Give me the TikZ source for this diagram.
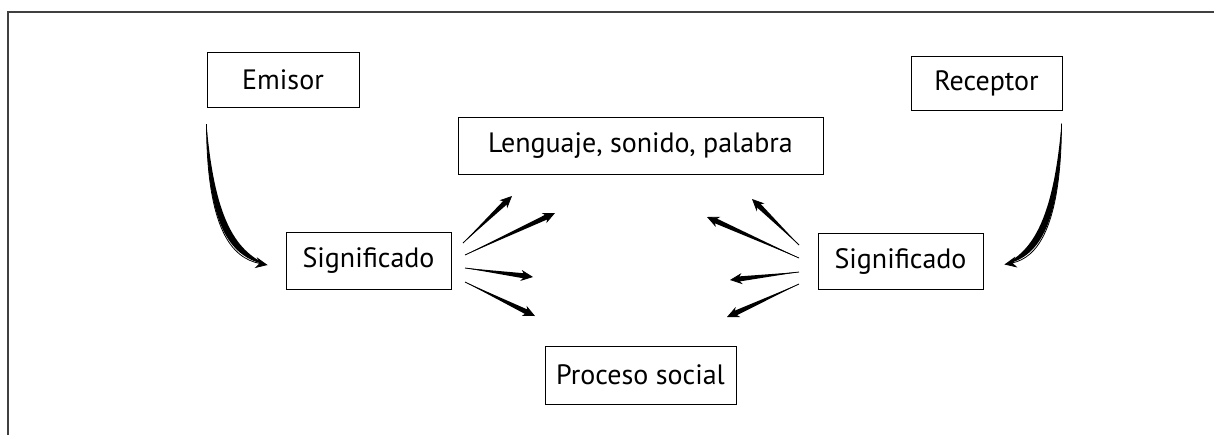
\documentclass[tikz,border=0pt]{standalone}
\usepackage{fontspec}
\setmainfont{PT Sans}
\usetikzlibrary{arrows.meta,calc}

\begin{document}
\begin{tikzpicture}[x=0.5pt, y=-0.5pt,
	caja/.style={draw, line width=0.5pt, inner sep=0pt, font=\fontsize{14}{16}\selectfont},
	punta/.style={-{Stealth[length=6pt,width=5.5pt]}, line width=0.4pt}]
	\useasboundingbox (0,0) rectangle (1214,435);

	% marco
	\draw [black!75] [line width=0.8pt] (1214,12)--(8,12)--(8,435);

	\node [caja, minimum width=76pt, minimum height=27.5pt] (emisor) at (283,80) {Emisor};
	\node [caja, minimum width=75.5pt, minimum height=27pt] (receptor) at (986.5,83) {Receptor};
	\node [caja, minimum width=182.5pt, minimum height=28.5pt] (lenguaje) at (640.5,145.5) {Lenguaje, sonido, palabra};
	\node [caja, minimum width=82.5pt, minimum height=28.5pt] (sigizq) at (368.5,260.5) {Significado};
	\node [caja, minimum width=82.5pt, minimum height=28pt] (sigder) at (900.5,261) {Significado};
	\node [caja, minimum width=95.5pt, minimum height=29pt] (proceso) at (640.5,375) {Proceso social};

	% curvas
	\coordinate (e0) at ($(emisor.south west)+(0,16)$);
	\coordinate (e1) at ($(sigizq.west)+(-18,4.5)$);
	\fill (e0) .. controls (207,230) and (232,258) .. (e1) .. controls (239,252) and (215,226) .. (e0);
	\draw [punta] (e0) .. controls (207,230) and (232,258) .. (e1);

	\coordinate (r0) at ($(receptor.south east)+(-1,13)$);
	\coordinate (r1) at ($(sigder.east)+(21,3.5)$);
	\fill (r0) .. controls (1061,230) and (1036,258) .. (r1) .. controls (1029,252) and (1053,226) .. (r0);
	\draw [punta] (r0) .. controls (1061,230) and (1036,258) .. (r1);

	% flechas de la izquierda
	\coordinate (a1) at (463,243); \coordinate (b1) at (512,196);
	\coordinate (a2) at (465,255); \coordinate (b2) at (555,213);
	\coordinate (a3) at (465,268); \coordinate (b3) at (533,277);
	\coordinate (a4) at (465,282); \coordinate (b4) at (535,316);
	% flechas de la derecha
	\coordinate (c1) at (799,245); \coordinate (d1) at (752,199);
	\coordinate (c2) at (799,258); \coordinate (d2) at (707,217);
	\coordinate (c3) at (799,272); \coordinate (d3) at (730,280);
	\coordinate (c4) at (799,284); \coordinate (d4) at (727,317);

	\foreach \a/\b in {a1/b1, a2/b2, a3/b3, a4/b4, c1/d1, c2/d2, c3/d3, c4/d4} {
		\coordinate (w) at ($(\b)!4pt!(\a)$);
		\fill (\a)--($(w)!1.3pt!90:(\a)$)--($(w)!1.3pt!-90:(\a)$)--cycle;
		\draw [punta] (\a)--(\b);
	}
\end{tikzpicture}
\end{document}
